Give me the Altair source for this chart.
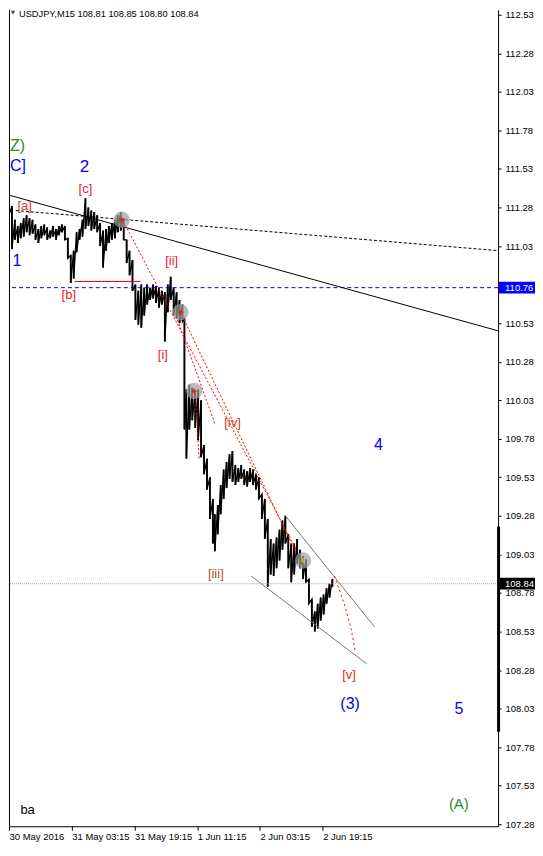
import altair as alt
import pandas as pd

# ---------------- data ----------------
# 15-minute bar number (0 = first bar on the chart) with high / low prices
bar_idx = [0, 3, 6, 9, 12, 15, 18, 21, 24, 27,
           30, 33, 36, 39, 42, 45, 48, 51, 54, 57,
           60, 63, 66, 69, 72, 75, 78, 81, 84, 87,
           90, 93, 96, 99, 102, 105, 108, 111, 114, 117,
           120, 123, 126, 129, 132, 135, 138, 141, 144, 147,
           150, 153, 156, 159, 162, 165, 168, 171, 174, 177,
           179, 181, 184, 187, 190, 193, 196, 199, 202, 205,
           208, 210, 213, 216, 219, 222, 225, 228, 231, 234,
           237, 240, 243, 246, 249, 252, 255, 258, 261, 264,
           267, 270, 273, 276, 279, 282, 285, 288, 291, 294,
           297, 300, 303, 306, 309, 312, 315, 318, 321, 324,
           327, 330]
bar_high = [111.36, 111.29, 111.20, 111.16, 111.18, 111.21, 111.23, 111.21, 111.20, 111.17,
            111.14, 111.16, 111.17, 111.15, 111.13, 111.16, 111.14, 111.16, 111.17, 111.16,
            111.08, 110.97, 111.00, 111.12, 111.14, 111.20, 111.34, 111.28, 111.26, 111.25,
            111.23, 111.18, 111.13, 111.14, 111.16, 111.18, 111.20, 111.23, 111.25, 111.21,
            111.07, 111.00, 110.94, 110.78, 110.74, 110.78, 110.76, 110.78, 110.76, 110.78,
            110.77, 110.76, 110.74, 110.73, 110.78, 110.83, 110.76, 110.73, 110.68, 110.65,
            110.56, 110.10, 110.13, 110.11, 110.09, 110.10, 110.03, 109.74, 109.65, 109.53,
            109.39, 109.29, 109.35, 109.48, 109.58, 109.63, 109.68, 109.70, 109.61, 109.59,
            109.61, 109.58, 109.57, 109.59, 109.58, 109.55, 109.53, 109.42, 109.39, 109.26,
            109.13, 109.10, 109.14, 109.19, 109.25, 109.28, 109.16, 109.10, 109.10, 109.13,
            109.06, 109.02, 109.00, 108.87, 108.74, 108.66, 108.71, 108.75, 108.77, 108.81,
            108.84, 108.87]
bar_low = [111.23, 111.01, 111.07, 111.05, 111.08, 111.09, 111.12, 111.10, 111.11, 111.07,
           111.05, 111.08, 111.10, 111.07, 111.08, 111.09, 111.07, 111.10, 111.12, 111.07,
           110.95, 110.79, 110.82, 110.99, 111.07, 111.09, 111.14, 111.16, 111.13, 111.14,
           111.12, 111.03, 110.89, 111.00, 111.05, 111.07, 111.08, 111.12, 111.13, 111.07,
           110.92, 110.84, 110.74, 110.55, 110.52, 110.50, 110.58, 110.65, 110.68, 110.69,
           110.66, 110.63, 110.65, 110.41, 110.60, 110.68, 110.58, 110.56, 110.53, 110.54,
           109.84, 109.65, 109.84, 109.90, 109.85, 109.77, 109.66, 109.55, 109.45, 109.26,
           109.10, 109.05, 109.16, 109.29, 109.39, 109.46, 109.52, 109.50, 109.48, 109.50,
           109.52, 109.48, 109.47, 109.50, 109.48, 109.45, 109.39, 109.26, 109.13, 108.82,
           108.90, 108.89, 108.94, 108.99, 109.06, 109.10, 108.94, 108.85, 108.90, 108.97,
           108.94, 108.87, 108.85, 108.71, 108.56, 108.53, 108.55, 108.60, 108.64, 108.71,
           108.75, 108.82]

x_tick_values = [0, 64, 128, 192, 256, 320]
x_tick_labels = ["30 May 2016", "31 May 03:15", "31 May 19:15",
                 "1 Jun 11:15", "2 Jun 03:15", "2 Jun 19:15"]
y_tick_values = [107.28, 107.53, 107.78, 108.03, 108.28, 108.53, 108.78, 109.03,
                 109.28, 109.53, 109.78, 110.03, 110.28, 110.53, 111.03,
                 111.28, 111.53, 111.78, 112.03, 112.28, 112.53]

title_text = "USDJPY,M15  108.81 108.85 108.80 108.84"
last_price = 108.84
level_price = 110.76

# trend lines (bar number, price)
solid_trend_i, solid_trend_p = [0, 499], [111.36, 110.48]
dashed_trend_i, dashed_trend_p = [7, 499], [111.26, 111.00]
red_level_i, red_level_p = [67, 134], [110.80, 110.80]
chan_up_i, chan_up_p = [282, 373], [109.28, 108.56]
chan_lo_i, chan_lo_p = [247, 365], [108.89, 108.32]
proj_i, proj_p = [332, 342, 349, 353], [108.89, 108.71, 108.55, 108.41]
red1_i, red1_p = [115, 293], [111.21, 109.06]
red2_i, red2_p = [175, 293], [110.60, 109.04]
red3_i, red3_p = [172, 210], [110.55, 109.88]
red4_i, red4_p = [190, 194], [110.08, 109.65]

circle_i = [115, 175, 189, 300]
circle_p = [111.20, 110.60, 110.09, 108.99]

# wave labels
lab_text = ["2", "1", "4", "(3)", "5", "(A)",
            "[c]", "[a]", "[b]", "[ii]", "[i]", "[iv]", "[iii]", "[v]", "ba"]
lab_i = [77, 8, 377, 348, 459, 459,
         78, 16, 61, 166, 157, 228, 211, 347, 19]
lab_p = [111.54, 110.93, 109.74, 108.06, 108.03, 107.41,
         111.40, 111.29, 110.71, 110.93, 110.32, 109.88, 108.90, 108.25, 107.37]
lab_color = ["#0000FF", "#0000FF", "#0000FF", "#0000FF", "#0000FF", "#2E8B2E",
             "#E8202A", "#D83030", "#E8202A", "#E8202A", "#E8202A", "#C83C1E", "#B05028", "#D03020", "#000000"]
lab_size = [17, 16, 16, 16, 16, 15,
            13, 13, 13, 13, 13, 13, 13, 13, 13]
# labels cut by the left edge of the chart
edge_text = ["Z)", "C]"]
edge_p = [111.68, 111.55]
edge_color = ["#2E8B2E", "#0000FF"]

# ---------------- chart ----------------
W, H = 490, 818
XDOM = [0, 499]
YDOM = [107.267, 112.562]
FONT = "Liberation Sans"

label_expr = "[" + ",".join(f"'{t}'" for t in x_tick_labels) + "][round(datum.value / 64)]"

x_axis = alt.Axis(values=x_tick_values, labelExpr=label_expr, labelAlign="left",
                  labelFlush=False, labelOverlap=False, tickSize=4, labelPadding=1,
                  domainColor="black", tickColor="black", labelColor="black",
                  labelFont=FONT, labelFontSize=9.5, grid=False, title=None)
y_axis = alt.Axis(values=y_tick_values, format=".2f", orient="right", tickSize=3,
                  labelPadding=4, domainColor="black", tickColor="black", labelColor="black",
                  labelFont=FONT, labelFontSize=9.5, grid=False, title=None,
                  labelOverlap=False, labelFlush=False)


def X(field="i"):
    return alt.X(f"{field}:Q", scale=alt.Scale(domain=XDOM, nice=False, zero=False), axis=x_axis)


def Y(field="p"):
    return alt.Y(f"{field}:Q", scale=alt.Scale(domain=YDOM, nice=False, zero=False), axis=y_axis)


def line_layer(i, p, color, dash=None, width=1.0):
    df = pd.DataFrame({"i": i, "p": p})
    kw = dict(color=color, strokeWidth=width, clip=True)
    if dash:
        kw["strokeDash"] = dash
    return alt.Chart(df).mark_line(**kw).encode(x=X(), y=Y())


bars_df = pd.DataFrame({"i": bar_idx, "hi": bar_high, "lo": bar_low})
zig_rows = []
for k, (i, h, l) in enumerate(zip(bar_idx, bar_high, bar_low)):
    zig_rows.append({"i": i, "p": h, "o": 2 * k})
    zig_rows.append({"i": i, "p": l, "o": 2 * k + 1})
zig_df = pd.DataFrame(zig_rows)

price = alt.Chart(bars_df).mark_rule(color="black", strokeWidth=1.8, clip=True).encode(
    x=X(), y=Y("hi"), y2="lo:Q")
price_zig = alt.Chart(zig_df).mark_line(color="black", strokeWidth=1.3, clip=True).encode(
    x=X(), y=Y(), order="o:Q")

# left frame line
frame = alt.Chart(pd.DataFrame({"i": [0]})).mark_rule(color="black", strokeWidth=1).encode(
    x=alt.value(0.5), y=alt.value(0), y2=alt.value(H))

hl_level = alt.Chart(pd.DataFrame({"p": [level_price]})).mark_rule(
    color="#0000FF", strokeDash=[4, 3], strokeWidth=1).encode(y=Y())
hl_last = alt.Chart(pd.DataFrame({"p": [last_price]})).mark_rule(
    color="#B0A4B0", strokeDash=[1, 1], strokeWidth=1).encode(y=Y())

circles = alt.Chart(pd.DataFrame({"i": circle_i, "p": circle_p})).mark_circle(
    size=270, color="#A0A0A0", opacity=0.7).encode(x=X(), y=Y())
crosses = alt.Chart(pd.DataFrame({"i": circle_i[:3], "p": circle_p[:3]})).mark_point(
    shape="cross", size=22, filled=True, color="#FF0000").encode(x=X(), y=Y())
cross4 = alt.Chart(pd.DataFrame({"i": circle_i[3:], "p": circle_p[3:]})).mark_point(
    shape="cross", size=22, filled=True, color="#E8C000").encode(x=X(), y=Y())

labels_df = pd.DataFrame({"i": lab_i, "p": lab_p, "t": lab_text, "c": lab_color, "s": lab_size})
labels = alt.Chart(labels_df).mark_text(font=FONT, baseline="middle", align="center").encode(
    x=X(), y=Y(), text="t:N", color=alt.Color("c:N", scale=None), size=alt.Size("s:Q", scale=None))
edge_df = pd.DataFrame({"p": edge_p, "t": edge_text, "c": edge_color})
edge_labels = alt.Chart(edge_df).mark_text(font=FONT, fontSize=16, baseline="middle", align="left").encode(
    x=alt.value(1), y=Y(), text="t:N", color=alt.Color("c:N", scale=None))

# title
title_tri = alt.Chart(pd.DataFrame({"i": [0]})).mark_point(
    shape="triangle-down", filled=True, color="black", size=20).encode(x=alt.value(4), y=alt.value(3))
title = alt.Chart(pd.DataFrame({"t": [title_text]})).mark_text(
    font=FONT, fontSize=9.3, align="left", baseline="alphabetic", color="black").encode(
    x=alt.value(10), y=alt.value(7), text="t:N")

# right axis decorations
axis_bar = alt.Chart(pd.DataFrame({"a": [109.21], "b": [107.88]})).mark_rect(color="black").encode(
    x=alt.value(489), x2=alt.value(492), y=Y("a"), y2="b:Q")

box_df = pd.DataFrame({"p": [level_price, last_price],
                       "top": [level_price + 0.038, last_price + 0.038],
                       "bot": [level_price - 0.038, last_price - 0.038],
                       "t": [f"{level_price:.2f}", f"{last_price:.2f}"],
                       "c": ["#0000FF", "#000000"]})
boxes = alt.Chart(box_df).mark_rect().encode(
    x=alt.value(491), x2=alt.value(527), y=Y("top"), y2="bot:Q",
    color=alt.Color("c:N", scale=None))
box_text = alt.Chart(box_df).mark_text(font=FONT, fontSize=9.5, align="left", baseline="middle",
                                       color="white").encode(
    x=alt.value(497), y=Y(), text="t:N")

chart = alt.layer(
    price,
    price_zig,
    frame,
    hl_level,
    hl_last,
    line_layer(solid_trend_i, solid_trend_p, "black"),
    line_layer(dashed_trend_i, dashed_trend_p, "black", dash=[3, 2]),
    line_layer(red_level_i, red_level_p, "#FF0000"),
    line_layer(chan_up_i, chan_up_p, "#6E7E6E"),
    line_layer(chan_lo_i, chan_lo_p, "#6E7E6E"),
    line_layer(red1_i, red1_p, "#FF0000", dash=[2, 2]),
    line_layer(red2_i, red2_p, "#FF0000", dash=[2, 2]),
    line_layer(red3_i, red3_p, "#FF0000", dash=[2, 2]),
    line_layer(red4_i, red4_p, "#FF0000", dash=[2, 2]),
    line_layer(proj_i, proj_p, "#FF0000", dash=[2, 3]),
    circles,
    crosses,
    cross4,
    labels,
    edge_labels,
    title_tri,
    title,
    axis_bar,
    boxes,
    box_text,
).properties(width=W, height=H, padding=0, background="white").configure_view(stroke=None)

chart.save("out.html", embed_options={"renderer": "svg", "actions": False})
